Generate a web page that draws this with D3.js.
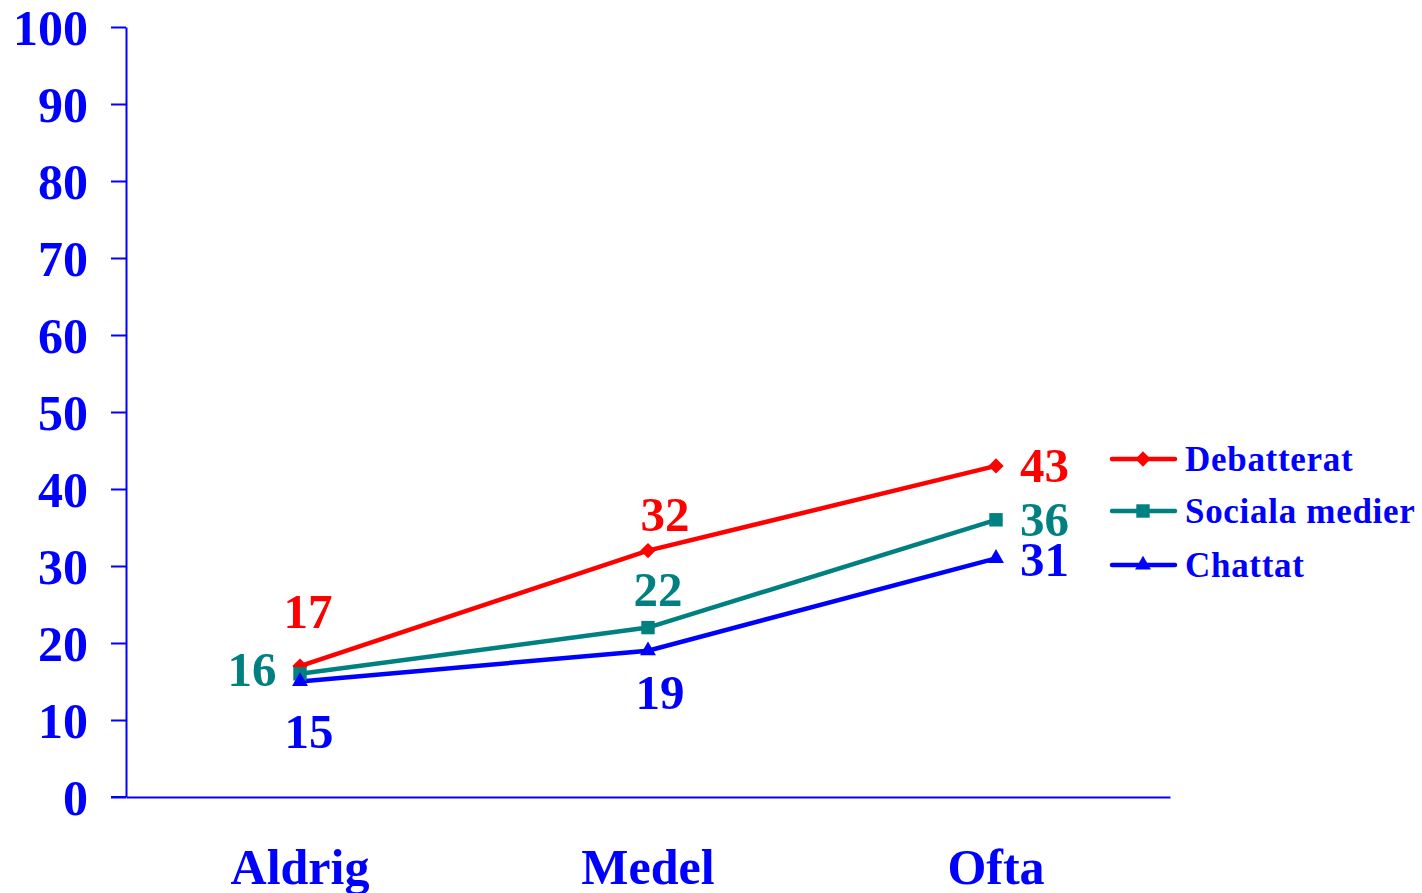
<!DOCTYPE html>
<html><head><meta charset="utf-8">
<script src="https://cdn.jsdelivr.net/npm/d3@7"></script>
<style>body{margin:0;background:#fff}svg{display:block}text{font-family:"Liberation Serif","Times New Roman",serif;font-weight:bold}</style>
</head><body><svg id="c" width="1422" height="893"></svg>
<script>
const categories = ["Aldrig", "Medel", "Ofta"];
const seriesNames = ["Debatterat", "Sociala medier", "Chattat"];
const debatterat = [17, 32, 43];
const socialaMedier = [16, 22, 36];
const chattat = [15, 19, 31];
const yTicks = [0, 10, 20, 30, 40, 50, 60, 70, 80, 90, 100];

const colors = ["#FF0000", "#008080", "#0000FF"];
const symbols = [d3.symbolDiamond2, d3.symbolSquare, d3.symbolTriangle];
const symbolSizes = [150, 180, 110];
// label placement offsets (dx, dy in px, anchor)
const labelPlace = [
  [[8,-38,"middle"],[17,-20,"middle"],[24,16,"start"]],
  [[-48,12,"middle"],[10,-22,"middle"],[24,16,"start"]],
  [[9,66,"middle"],[12,58,"middle"],[24,18,"start"]]
];
const seriesVals = [debatterat, socialaMedier, chattat];

const svg = d3.select("#c");
const mLeft = 126, mRight = 1170, mTop = 27, mBottom = 797;
const x = d3.scaleBand().domain(categories).range([mLeft, mRight]);
const y = d3.scaleLinear().domain([0, 100]).range([mBottom, mTop]);
const axisColor = "#0000FF";

// y axis
const ya = svg.append("g").attr("transform", `translate(${mLeft},0)`)
  .call(d3.axisLeft(y).tickValues(yTicks).tickSize(15).tickPadding(23).tickSizeOuter(0));
ya.select(".domain").attr("stroke", axisColor).attr("stroke-width", 2);
ya.selectAll(".tick line").attr("stroke", axisColor).attr("stroke-width", 2);
ya.selectAll(".tick text").attr("fill", axisColor).attr("font-size", 50).attr("dy", "0.35em");

// x axis
const xa = svg.append("g").attr("transform", `translate(0,${mBottom})`)
  .call(d3.axisBottom(x).tickSize(0).tickPadding(87).tickSizeOuter(0));
xa.select(".domain").attr("stroke", axisColor).attr("stroke-width", 2);
xa.selectAll(".tick text").attr("fill", axisColor).attr("font-size", 50).attr("dy", 0);
svg.append("line").attr("x1", mLeft - 15).attr("x2", mLeft).attr("y1", y(0)).attr("y2", y(0))
  .attr("stroke", axisColor).attr("stroke-width", 2);

const cx = c => x(c) + x.bandwidth() / 2;
const line = d3.line().x((d, i) => cx(categories[i])).y(d => y(d));

seriesVals.forEach((vals, s) => {
  svg.append("path").datum(vals).attr("d", line).attr("fill", "none")
    .attr("stroke", colors[s]).attr("stroke-width", 4.5);
});
seriesVals.forEach((vals, s) => {
  svg.selectAll(null).data(vals).enter().append("path")
    .attr("d", d3.symbol().type(symbols[s]).size(symbolSizes[s]))
    .attr("transform", (d, i) => `translate(${cx(categories[i])},${y(d)})`)
    .attr("fill", colors[s]);
  svg.selectAll(null).data(vals).enter().append("text")
    .attr("x", (d, i) => cx(categories[i]) + labelPlace[s][i][0])
    .attr("y", (d, i) => y(d) + labelPlace[s][i][1])
    .attr("text-anchor", (d, i) => labelPlace[s][i][2])
    .attr("fill", colors[s]).attr("font-size", 49).text(d => d);
});

// legend
const legY = [459, 511, 565];
seriesNames.forEach((n, s) => {
  const g = svg.append("g").attr("transform", `translate(1112,${legY[s]})`);
  g.append("line").attr("x1", 0).attr("x2", 63).attr("stroke", colors[s]).attr("stroke-width", 4.5).attr("stroke-linecap", "round");
  g.append("path").attr("d", d3.symbol().type(symbols[s]).size(symbolSizes[s])).attr("transform", "translate(31,0)").attr("fill", colors[s]);
  g.append("text").attr("x", 73).attr("y", 12).attr("fill", axisColor).attr("font-size", 35)
    .attr("letter-spacing", 0.7).text(n);
});
</script></body></html>
